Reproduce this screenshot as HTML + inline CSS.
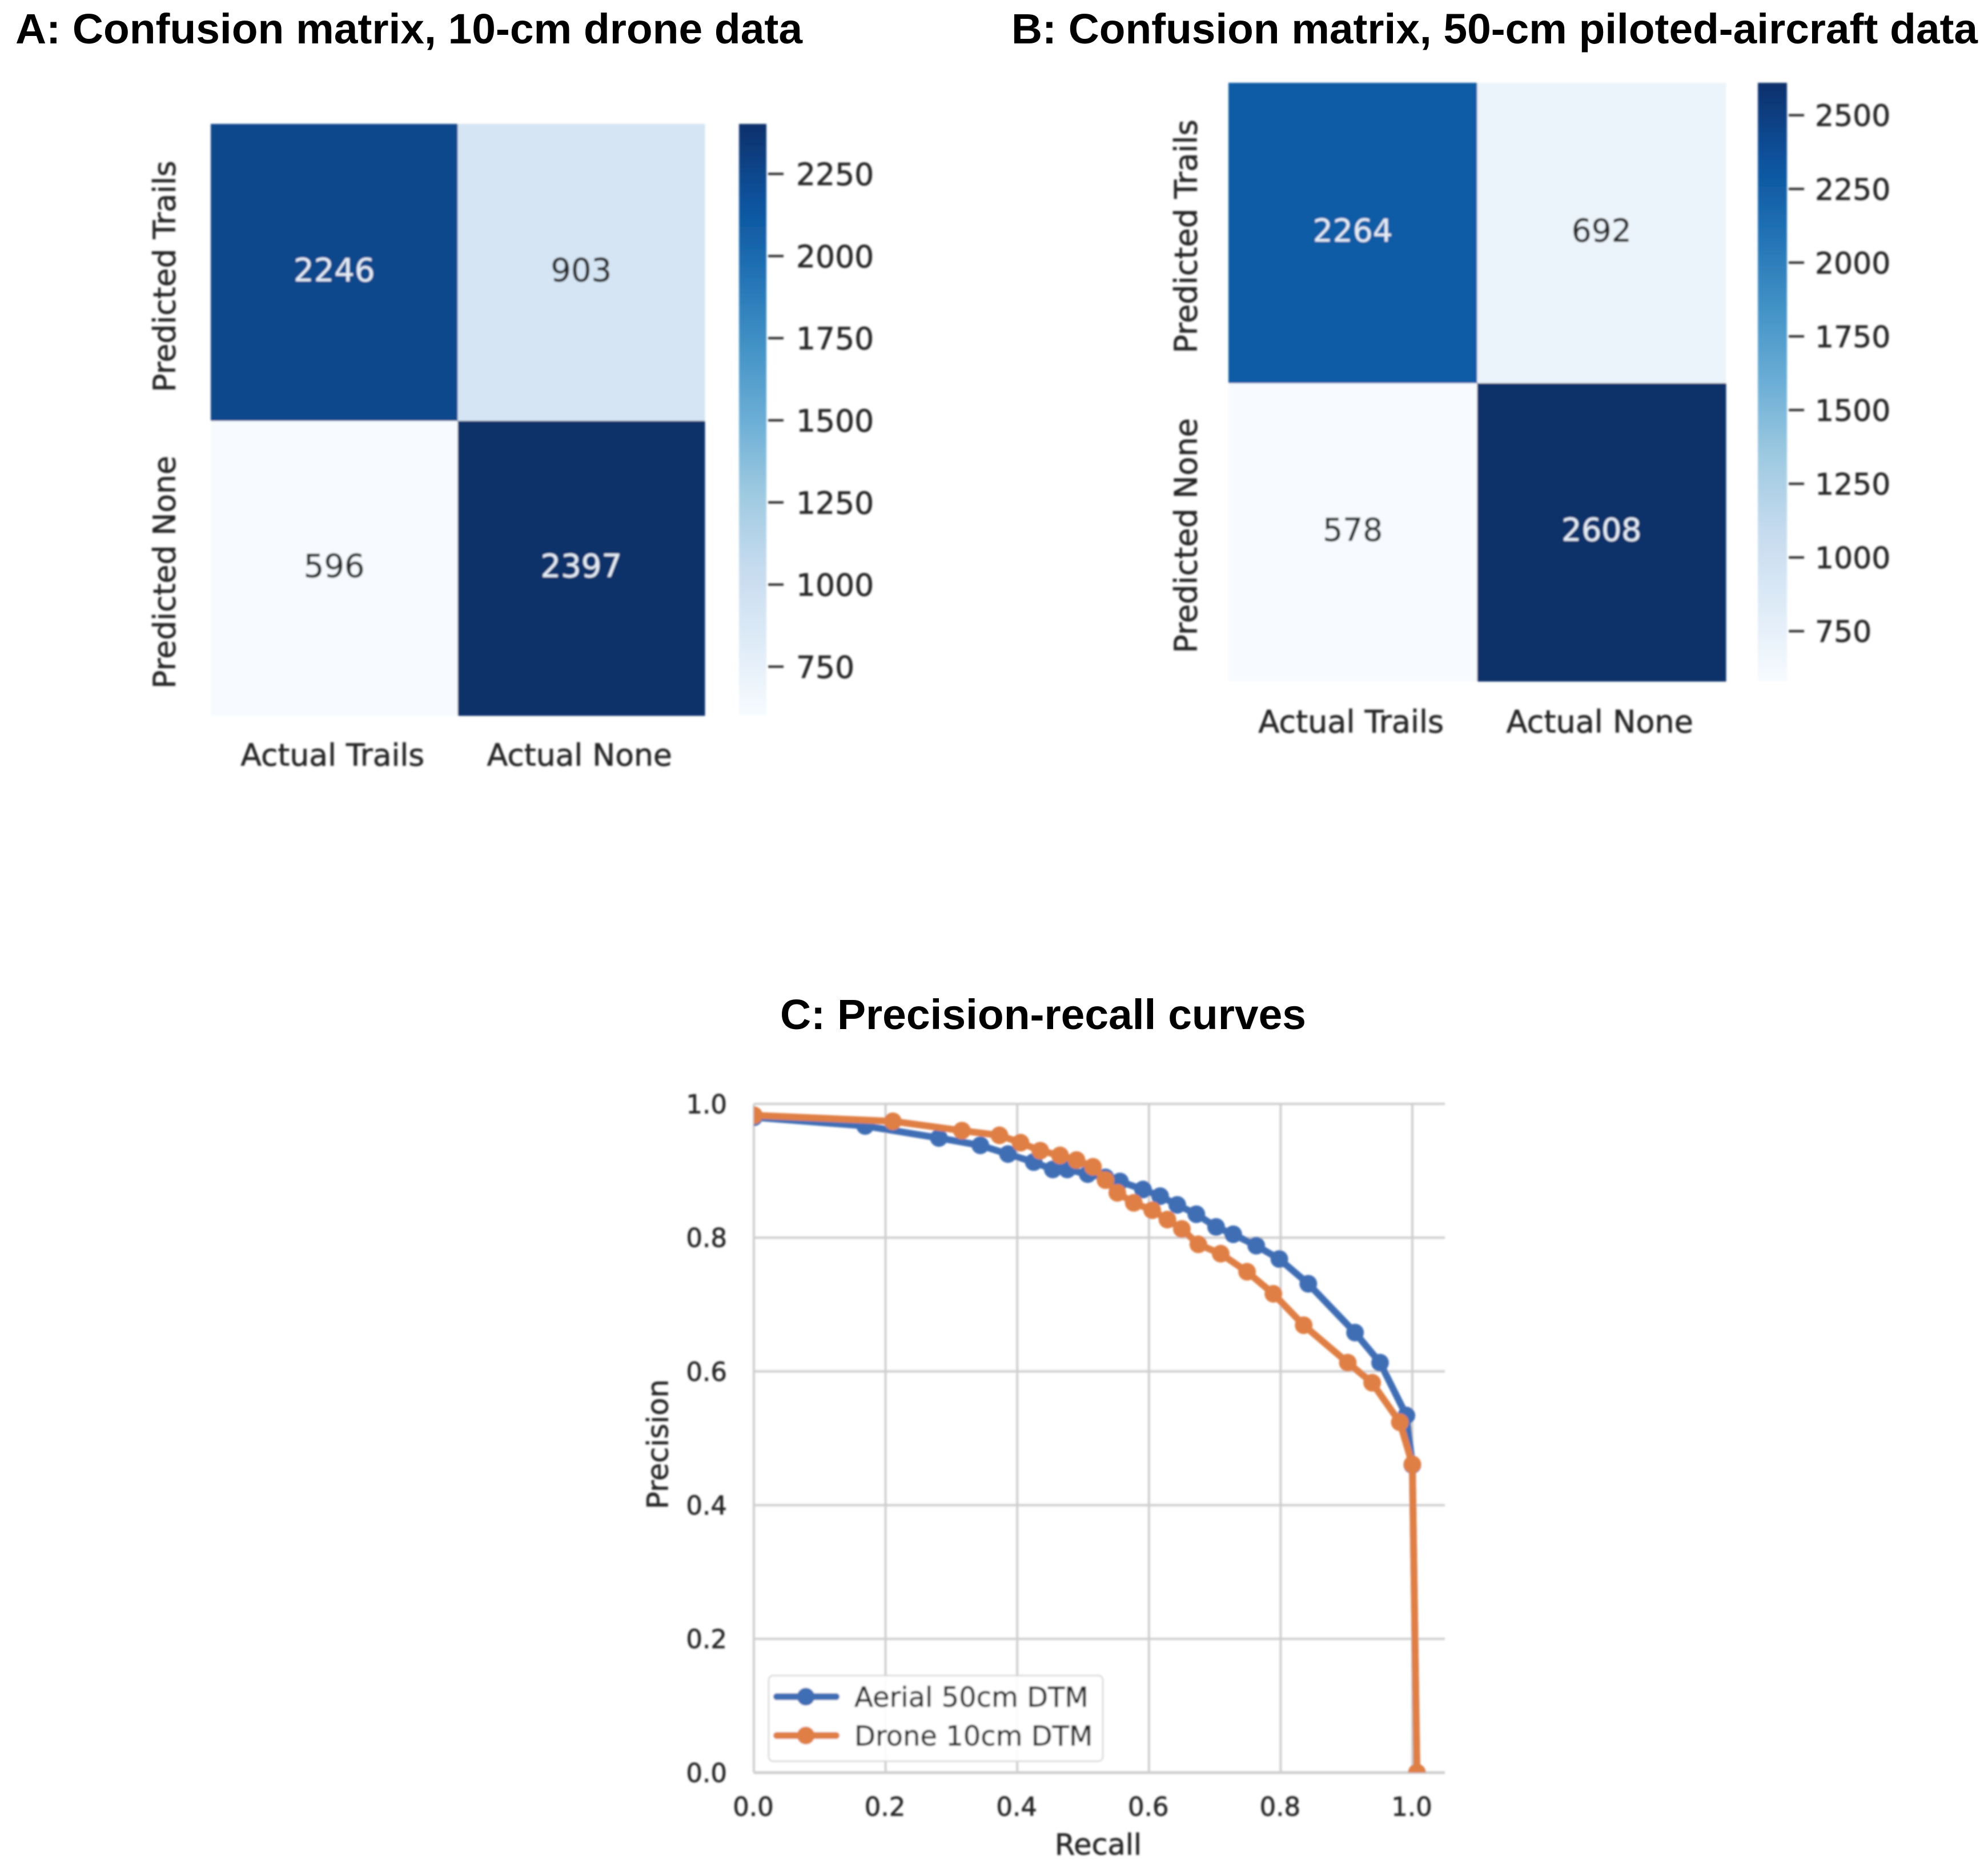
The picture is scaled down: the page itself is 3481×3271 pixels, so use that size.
<!DOCTYPE html>
<html lang="en">
<head>
<meta charset="utf-8">
<title>Confusion matrices and precision-recall curves</title>
<style>
html,body{margin:0;padding:0;background:#fff;}
svg{display:block;}
.title{font-family:"Liberation Sans",Arial,sans-serif;font-weight:700;font-size:74px;fill:#000;}
.lab{font-family:"DejaVu Sans",sans-serif;fill:#262626;stroke:#262626;stroke-width:0.7px;}
.lab-light{font-family:"DejaVu Sans",sans-serif;fill:#e4edf7;}
</style>
</head>
<body>
<svg id="figure" xmlns="http://www.w3.org/2000/svg" width="3481" height="3271" viewBox="0 0 3481 3271">
  <defs>
    <filter id="soft" x="-5%" y="-5%" width="110%" height="110%"><feGaussianBlur stdDeviation="1.5"/></filter>
    <clipPath id="plot-clip"><rect x="1320" y="1925" width="1210" height="1179"/></clipPath>
  </defs>
  <rect width="3481" height="3271" fill="#ffffff"/>
  <text class="title" x="27" y="76" textLength="1378" lengthAdjust="spacingAndGlyphs">A: Confusion matrix, 10-cm drone data</text>
  <text class="title" x="1771" y="76" textLength="1692" lengthAdjust="spacingAndGlyphs">B: Confusion matrix, 50-cm piloted-aircraft data</text>
  <text class="title" x="1366" y="1802" textLength="921" lengthAdjust="spacingAndGlyphs">C: Precision-recall curves</text>
  <g filter="url(#soft)">
    <line x1="2030" x2="2062" y1="136" y2="136" stroke="#dddddd" stroke-width="3"/>
    <line x1="2228" x2="2256" y1="136" y2="136" stroke="#e8d6cf" stroke-width="3"/>
    <line x1="2548" x2="2576" y1="136" y2="136" stroke="#dddddd" stroke-width="3"/>
  </g>
  <g id="panel-a" filter="url(#soft)"></g>
  <g id="panel-b" filter="url(#soft)"></g>
  <g id="panel-c" filter="url(#soft)"></g>
</svg>
<script>
// ---------- chart data ----------
const xCategories = ["Actual Trails", "Actual None"];
const yCategories = ["Predicted Trails", "Predicted None"];
const matrixA = [[2246, 903], [596, 2397]];
const matrixB = [[2264, 692], [578, 2608]];
const colorbarTicksA = [750, 1000, 1250, 1500, 1750, 2000, 2250];
const colorbarTicksB = [750, 1000, 1250, 1500, 1750, 2000, 2250, 2500];

const recallTicks = [0.0, 0.2, 0.4, 0.6, 0.8, 1.0];
const precisionTicks = [0.0, 0.2, 0.4, 0.6, 0.8, 1.0];
const seriesNames = ["Aerial 50cm DTM", "Drone 10cm DTM"];
const recallAerial = [0.000, 0.169, 0.281, 0.344, 0.386, 0.425, 0.454, 0.476, 0.507, 0.534, 0.556, 0.591, 0.617, 0.643, 0.672, 0.702, 0.728, 0.763, 0.798, 0.842, 0.913, 0.951, 0.991, 1.000, 1.007];
const precisionAerial = [0.980, 0.967, 0.949, 0.938, 0.925, 0.913, 0.902, 0.902, 0.895, 0.890, 0.884, 0.872, 0.862, 0.849, 0.835, 0.816, 0.805, 0.788, 0.768, 0.731, 0.658, 0.613, 0.534, 0.460, 0.000];
const recallDrone = [0.000, 0.211, 0.316, 0.373, 0.405, 0.435, 0.465, 0.490, 0.515, 0.534, 0.552, 0.577, 0.605, 0.628, 0.650, 0.675, 0.709, 0.749, 0.789, 0.835, 0.902, 0.939, 0.981, 1.000, 1.007];
const precisionDrone = [0.983, 0.974, 0.960, 0.953, 0.942, 0.930, 0.923, 0.916, 0.906, 0.886, 0.867, 0.852, 0.841, 0.827, 0.813, 0.790, 0.776, 0.749, 0.716, 0.669, 0.613, 0.583, 0.524, 0.461, 0.000];

// ---------- helpers ----------
const SVGNS = "http://www.w3.org/2000/svg";
const bluesPalette = ["#f7fbff", "#deebf7", "#c6dbef", "#9ecae1", "#6baed6", "#4292c6", "#2171b5", "#08519c", "#08306b"];
function hexToRgb(h) { return [1, 3, 5].map(i => parseInt(h.slice(i, i + 2), 16)); }
function blues(t) {
  const c = Math.max(0, Math.min(1, t)) * (bluesPalette.length - 1);
  const i = Math.min(bluesPalette.length - 2, Math.floor(c));
  const a = hexToRgb(bluesPalette[i]), b = hexToRgb(bluesPalette[i + 1]), f = c - i;
  return "rgb(" + a.map((v, k) => Math.round(v + (b[k] - v) * f)).join(",") + ")";
}
function make(tag, attrs, parent, text) {
  const el = document.createElementNS(SVGNS, tag);
  for (const k in attrs) el.setAttribute(k, attrs[k]);
  if (text !== undefined) el.textContent = text;
  parent.appendChild(el);
  return el;
}
const defs = document.querySelector("#figure defs");

// ---------- confusion matrices ----------
function drawHeatmap(root, matrix, ticks, box) {
  const flat = matrix.flat();
  const vmin = Math.min(...flat), vmax = Math.max(...flat);
  const colX = c => box.x0 + (box.x1 - box.x0) * c / matrix[0].length;
  const rowEdges = [box.y0, box.ySplit, box.y1];
  const rowY = r => rowEdges[r];
  const colorT = v => (v - vmin) / (vmax - vmin);
  const barY = v => box.y1 - colorT(v) * (box.y1 - box.y0) + box.tickShift;

  matrix.forEach((row, r) => row.forEach((v, c) => {
    const cell = make("rect", { x: colX(c), y: rowY(r), width: colX(c + 1) - colX(c) + 0.5, height: rowY(r + 1) - rowY(r) + 0.5, fill: blues(colorT(v)) }, root);
    
    
    const label = make("text", { class: colorT(v) > 0.5 ? "lab-light" : "lab", x: (colX(c) + colX(c + 1)) / 2, y: (rowY(r) + rowY(r + 1)) / 2 + 0.365 * box.cellFont - 5, "text-anchor": "middle", "font-size": box.cellFont }, root, String(v));
    
    
  }));

  xCategories.forEach((name, c) => {
    const t = make("text", { class: "lab", x: (colX(c) + colX(c + 1)) / 2 - 3, y: box.xLabelY + 0.36 * box.labelFont, "text-anchor": "middle", "font-size": box.labelFont }, root, name);
    
    
  });
  yCategories.forEach((name, r) => {
    const cy = (rowY(r) + rowY(r + 1)) / 2 + box.yLabelShift;
    const t = make("text", { class: "lab", transform: "translate(" + (box.yLabelX + 0.38 * box.labelFont) + "," + cy + ") rotate(-90)", "text-anchor": "middle", "font-size": box.labelFont }, root, name);
    
    
  });

  const gradId = "grad-" + root.id;
  const grad = make("linearGradient", { id: gradId, x1: 0, y1: 1, x2: 0, y2: 0 }, defs);
  bluesPalette.forEach((col, i) => make("stop", { offset: i / (bluesPalette.length - 1), "stop-color": col }, grad));
  const bar = make("rect", { x: box.barX0, y: box.y0, width: box.barX1 - box.barX0, height: box.y1 - box.y0, fill: "url(#" + gradId + ")" }, root);
  
  

  ticks.forEach(v => {
    const y = barY(v);
    const mark = make("line", { x1: box.barX1 + 3, x2: box.barX1 + 30, y1: y, y2: y, stroke: "#262626", "stroke-width": 4 }, root);
    
    
    const t = make("text", { class: "lab", x: box.barX1 + box.tickLabelGap, y: y + 0.365 * box.tickFont, "font-size": box.tickFont }, root, String(v));
    
    
  });
}

drawHeatmap(document.getElementById("panel-a"), matrixA, colorbarTicksA, {
  x0: 369, x1: 1234, y0: 217, ySplit: 737, y1: 1253, barX0: 1294, barX1: 1342, tickShift: 3,
  cellFont: 56, labelFont: 53.5, tickFont: 53.5, xLabelY: 1321, yLabelX: 286, yLabelShift: 7, tickLabelGap: 52
});
drawHeatmap(document.getElementById("panel-b"), matrixB, colorbarTicksB, {
  x0: 2151, x1: 3022, y0: 145, ySplit: 671, y1: 1193, barX0: 3078, barX1: 3129, tickShift: 1,
  cellFont: 55, labelFont: 54, tickFont: 52, xLabelY: 1263, yLabelX: 2075, yLabelShift: 6, tickLabelGap: 49
});

// ---------- precision-recall chart ----------
(function () {
  const root = document.getElementById("panel-c");
  const X0 = 1320, X1 = 2473, Y0 = 3104, Y1 = 1933, XEND = 2530;
  const xScale = v => X0 + v * (X1 - X0);
  const yScale = v => Y0 - v * (Y0 - Y1);
  const gridColor = "#cfcfcf";
  const tickFont = 45, titleFont = 51, legendFont = 48;

  precisionTicks.forEach(v => {
    const y = yScale(v);
    const g = make("line", { x1: X0, x2: XEND, y1: y, y2: y, stroke: gridColor, "stroke-width": v === 0 ? 5 : 4 }, root);
    
    
    const t = make("text", { class: "lab", x: 1273, y: y + 0.365 * tickFont, "text-anchor": "end", "font-size": tickFont }, root, v.toFixed(1));
    
    
  });
  recallTicks.forEach(v => {
    const x = xScale(v);
    const g = make("line", { x1: x, x2: x, y1: Y1, y2: Y0, stroke: gridColor, "stroke-width": 4 }, root);
    
    
    const t = make("text", { class: "lab", x: x - 1, y: 3163 + 0.365 * tickFont, "text-anchor": "middle", "font-size": tickFont }, root, v.toFixed(1));
    
    
  });

  const xTitle = make("text", { class: "lab", x: 1923, y: 3229 + 0.36 * titleFont, "text-anchor": "middle", "font-size": titleFont }, root, "Recall");
  
  
  const yTitle = make("text", { class: "lab", transform: "translate(" + (1150 + 0.38 * titleFont) + ",2529) rotate(-90)", "text-anchor": "middle", "font-size": titleFont }, root, "Precision");
  
  

  const plot = make("g", { "clip-path": "url(#plot-clip)" }, root);
  
  

  const blue = "#3f6eb5", orange = "#df7f45";
  function series(rec, prec, color, name) {
    const pts = rec.map((r, i) => xScale(r) + "," + yScale(prec[i])).join(" ");
    const line = make("polyline", { points: pts, fill: "none", stroke: color, "stroke-width": 12, "stroke-linejoin": "round" }, plot);
    
    
    rec.forEach((r, i) => {
      const dot = make("circle", { cx: xScale(r), cy: yScale(prec[i]), r: 15.5, fill: color }, plot);
      
      
    });
  }
  series(recallAerial, precisionAerial, blue, "aerial-50cm");
  series(recallDrone, precisionDrone, orange, "drone-10cm");

  const legend = make("g", {}, root);
  
  
  const frame = make("rect", { x: 1346, y: 2934, width: 585, height: 150, rx: 8, ry: 8, fill: "#ffffff", "fill-opacity": 0.9, stroke: "#d6d6d6", "stroke-width": 2.5 }, legend);
  
  
  [blue, orange].forEach((color, i) => {
    const y = i === 0 ? 2971 : 3039;
    const l = make("line", { x1: 1360, x2: 1464, y1: y, y2: y, stroke: color, "stroke-width": 12, "stroke-linecap": "round" }, legend);
    
    
    const m = make("circle", { cx: 1411, cy: y, r: 15.5, fill: color }, legend);
    
    
    const t = make("text", { class: "lab", x: 1496, y: y + 0.365 * legendFont, "font-size": legendFont }, legend, seriesNames[i]);
    
    
  });
})();
</script>
</body>
</html>
